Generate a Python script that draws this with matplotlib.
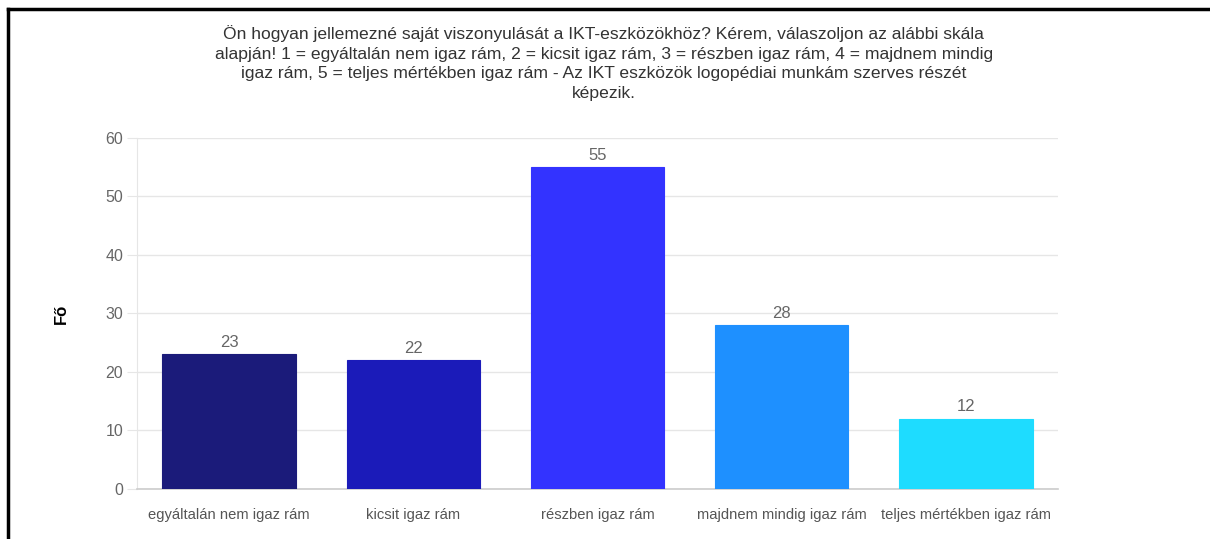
import matplotlib
matplotlib.use("Agg")
import matplotlib.pyplot as plt
from matplotlib.lines import Line2D

# chart data
categories = ["egyáltalán nem igaz rám", "kicsit igaz rám", "részben igaz rám",
              "majdnem mindig igaz rám", "teljes mértékben igaz rám"]
values = [23, 22, 55, 28, 12]
colors = ["#1b1b7a", "#1b1bb9", "#3333ff", "#1e90ff", "#1edcff"]
yticks = [0, 10, 20, 30, 40, 50, 60]
title = ("Ön hogyan jellemezné saját viszonyulását a IKT-eszközökhöz? Kérem, válaszoljon az alábbi skála\n"
         "alapján! 1 = egyáltalán nem igaz rám, 2 = kicsit igaz rám, 3 = részben igaz rám, 4 = majdnem mindig\n"
         "igaz rám, 5 = teljes mértékben igaz rám - Az IKT eszközök logopédiai munkám szerves részét\n"
         "képezik.")

plt.rcParams['font.family'] = ['Liberation Sans', 'DejaVu Sans']

fig = plt.figure(figsize=(12.1, 5.39), dpi=100)
ax = fig.add_axes([0.1132, 0.0928, 0.7612, 0.6512])

x = range(len(categories))
bars = ax.bar(x, values, width=0.723, color=colors, edgecolor=colors, linewidth=0.8, zorder=3)
for b, v in zip(bars, values):
    ax.text(b.get_x() + b.get_width() / 2, v + 0.8, str(v), ha='center', va='bottom',
            fontsize=12, color='#666666', zorder=4)

ax.set_xlim(-0.5, len(categories) - 0.5)
ax.set_ylim(0, 60)
ax.set_yticks(yticks)
ax.set_xticks(list(x))
ax.set_xticklabels(categories, fontsize=10.6, color='#555555')
ax.tick_params(axis='y', labelsize=11.5, labelcolor='#666666', length=7, color='#e6e6e6', pad=3)
ax.tick_params(axis='x', length=0, pad=14)
ax.grid(axis='y', color='#e6e6e6', linewidth=1, zorder=0)
for s in ['top', 'right']:
    ax.spines[s].set_visible(False)
ax.spines['left'].set_color('#e6e6e6')
ax.spines['bottom'].set_color('#cccccc')
ax.spines['bottom'].set_linewidth(1.2)
ax.set_axisbelow(True)

ax.set_ylabel("Fő", fontsize=12, fontweight='bold', labelpad=26)

fig.text(0.499, 0.953, title, ha='center', va='top', fontsize=12.6, color='#333333',
         linespacing=1.38)

# outer frame: top and left lines
fig.add_artist(Line2D([7.5 / 1210, 1.0], [1 - 9 / 539, 1 - 9 / 539], color='black', linewidth=2.5,
                      transform=fig.transFigure))
fig.add_artist(Line2D([8 / 1210, 8 / 1210], [0, 1 - 9 / 539], color='black', linewidth=2.5,
                      transform=fig.transFigure))

fig.savefig("out.png", dpi=100)
